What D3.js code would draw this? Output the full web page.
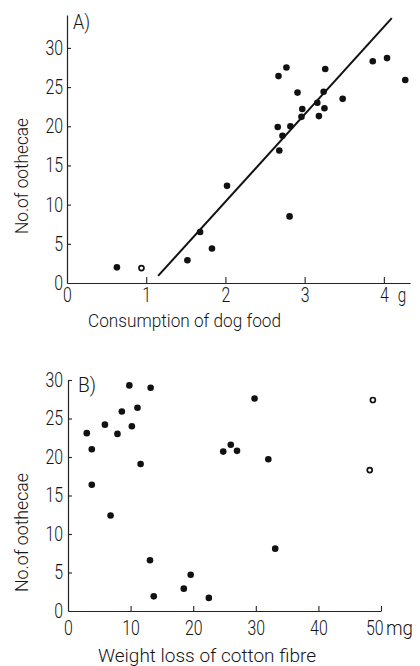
<!DOCTYPE html>
<html><head><meta charset="utf-8">
<script src="https://cdn.jsdelivr.net/npm/d3@7"></script>
<style>
body{margin:0;background:#fff}
svg text{font-family:Roboto,"Liberation Sans","DejaVu Sans",sans-serif;font-weight:300;fill:#151515}
</style></head><body>
<svg id="c" width="420" height="666"></svg>
<script>
// Panel A: consumption of dog food (g) vs number of oothecae
const foodConsumption = [0.63,0.94,1.52,1.68,1.83,2.02,2.67,2.77,2.66,2.68,2.72,2.82,2.81,2.91,2.97,2.96,3.16,3.18,3.24,3.25,3.26,3.48,3.86,4.04,4.27];
const oothecaeA      = [2.0,1.9,2.9,6.5,4.4,12.4,26.4,27.5,19.9,16.9,18.8,20.0,8.5,24.3,22.2,21.2,23.0,21.3,24.4,22.3,27.3,23.5,28.3,28.7,25.9];
const markerA        = ["f","o","f","f","f","f","f","f","f","f","f","f","f","f","f","f","f","f","f","f","f","f","f","f","f"];
const fitLineX = [1.15, 4.10];
const fitLineY = [0.9, 33.8];
const ticksAX = [0,1,2,3,4];
const ticksAY = [0,5,10,15,20,25,30];

// Panel B: weight loss of cotton fibre (mg) vs number of oothecae
const fibreLoss  = [3.0,3.8,3.8,5.9,6.8,7.9,8.6,9.8,10.2,11.1,11.6,13.2,13.1,13.7,18.5,19.6,22.5,24.8,26.0,27.0,29.8,32.0,33.1,48.2,48.7];
const oothecaeB  = [23.1,21.0,16.4,24.2,12.4,23.0,25.9,29.3,24.0,26.4,19.1,29.0,6.6,1.9,2.9,4.7,1.7,20.7,21.6,20.8,27.6,19.7,8.1,18.3,27.4];
const markerB    = ["f","f","f","f","f","f","f","f","f","f","f","f","f","f","f","f","f","f","f","f","f","f","f","o","o"];
const ticksBX = [0,10,20,30,40,50];
const ticksBY = [0,5,10,15,20,25,30];

const svg = d3.select("#c");
const FS = 20;
const DIGIT_W = 8.8;

function squeeze(sel, w){
  sel.attr("textLength", w).attr("lengthAdjust","spacingAndGlyphs");
}

function styleAxis(g){
  g.select(".domain").attr("stroke","#222").attr("stroke-width",1.2);
  g.selectAll(".tick line").attr("stroke","#222").attr("stroke-width",1.1);
  g.attr("font-family",null).attr("font-size",null);
  g.selectAll(".tick text").style("font-size",FS+"px").attr("fill","#151515")
    .each(function(){ squeeze(d3.select(this), this.textContent.length*DIGIT_W); });
}

function panel(cfg){
  const x = d3.scaleLinear().domain(cfg.xd).range(cfg.xr);
  const y = d3.scaleLinear().domain(cfg.yd).range(cfg.yr);
  const gx = svg.append("g").attr("transform",`translate(0,${cfg.yr[0]})`)
    .call(d3.axisBottom(x).tickValues(cfg.tx).tickFormat(d3.format("d"))
      .tickSizeInner(-cfg.xtick).tickSizeOuter(0).tickPadding(cfg.xpad));
  styleAxis(gx);
  gx.selectAll(".tick").filter(d=>d===0).select("line").remove();
  const gy = svg.append("g").attr("transform",`translate(${cfg.xr[0]},0)`)
    .call(d3.axisLeft(y).tickValues(cfg.ty).tickFormat(d3.format("d"))
      .tickSizeInner(-cfg.ytick).tickSizeOuter(0).tickPadding(cfg.ypad));
  styleAxis(gy);
  gy.selectAll(".tick").filter(d=>d===0).select("line").remove();
  return {x,y,gx,gy};
}

function dots(P, data){
  svg.append("g").selectAll("circle").data(data).join("circle")
    .attr("cx",d=>P.x(d.x)).attr("cy",d=>P.y(d.y))
    .attr("r",d=>d.m==="o"?2.5:3.3)
    .attr("fill",d=>d.m==="o"?"#fff":"#111")
    .attr("stroke","#111").attr("stroke-width",d=>d.m==="o"?1.7:0);
}

// ---- Panel A
const A = panel({xd:[0,4.33], xr:[67,410], yd:[0,34.2], yr:[283,15],
  tx:ticksAX, ty:ticksAY, xtick:6, ytick:4, xpad:5, ypad:4});
svg.append("text").attr("x",A.x(4)+14).attr("y",A.y(0)+5).attr("dy","0.71em")
  .style("font-size",FS+"px").text("g").call(squeeze, 8.5);
svg.append("text").attr("x",73).attr("y",29).style("font-size",FS+"px").text("A)").call(squeeze, 17);
svg.append("line")
  .attr("x1",A.x(fitLineX[0])).attr("y1",A.y(fitLineY[0]))
  .attr("x2",A.x(fitLineX[1])).attr("y2",A.y(fitLineY[1]))
  .attr("stroke","#111").attr("stroke-width",2);
dots(A, foodConsumption.map((v,i)=>({x:v,y:oothecaeA[i],m:markerA[i]})));
svg.append("text").attr("x",88).attr("y",327)
  .style("font-size","19px").text("Consumption of dog food").call(squeeze, 193);
svg.append("text").attr("transform","translate(28,234) rotate(-90)")
  .style("font-size","19px").text("No.of oothecae").call(squeeze, 116);

// ---- Panel B
const B = panel({xd:[0,50], xr:[68,381], yd:[0,30], yr:[611,380],
  tx:ticksBX, ty:ticksBY, xtick:5, ytick:4, xpad:10, ypad:5});
B.gx.selectAll(".tick").filter(d=>d===50).select("text").attr("text-anchor","end").attr("x",2);
svg.append("text").attr("x",B.x(50)+5).attr("y",B.y(0)+10).attr("dy","0.71em")
  .style("font-size",FS+"px").text("mg").call(squeeze, 27);
svg.append("text").attr("x",78).attr("y",392).style("font-size",FS+"px").text("B)").call(squeeze, 18);
dots(B, fibreLoss.map((v,i)=>({x:v,y:oothecaeB[i],m:markerB[i]})));
svg.append("text").attr("x",98).attr("y",662)
  .style("font-size","19px").text("Weight loss of cotton fibre").call(squeeze, 218);
svg.append("text").attr("transform","translate(28,592) rotate(-90)")
  .style("font-size","19px").text("No.of oothecae").call(squeeze, 119);
</script>
</body></html>
